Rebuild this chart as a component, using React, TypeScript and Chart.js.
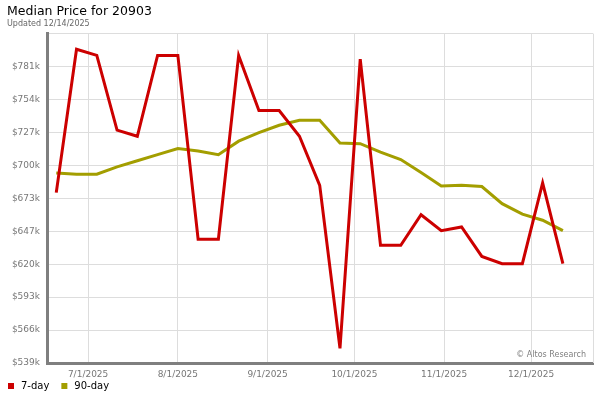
import React, { useEffect, useRef } from "react";
import { Chart, registerables } from "chart.js";
Chart.register(...registerables);

const titleText = "Median Price for 20903";
const subtitleText = "Updated 12/14/2025";
const creditText = "© Altos Research";

const dates = [
  "2025-06-20", "2025-06-27", "2025-07-04", "2025-07-11", "2025-07-18", "2025-07-25",
  "2025-08-01", "2025-08-08", "2025-08-15", "2025-08-22", "2025-08-29", "2025-09-05",
  "2025-09-12", "2025-09-19", "2025-09-26", "2025-10-03", "2025-10-10", "2025-10-17",
  "2025-10-24", "2025-10-31", "2025-11-07", "2025-11-14", "2025-11-21", "2025-11-28",
  "2025-12-05", "2025-12-12",
];

const sevenDay = [
  678000, 795000, 790000, 729000, 724000, 790000, 790000, 640000, 640000, 790000,
  745000, 745000, 724000, 684000, 551000, 787000, 635000, 635000, 660000, 647000,
  650000, 626000, 620000, 620000, 686000, 620000,
];

const ninetyDay = [
  694000, 693000, 693000, 699000, 704000, 709000, 714000, 712000, 709000, 720000,
  727000, 733000, 737000, 737000, 718500, 718000, 711000, 705000, 694500, 683500,
  684000, 683000, 669000, 660500, 655500, 647000,
];

const xTickDates = ["2025-07-01", "2025-08-01", "2025-09-01", "2025-10-01", "2025-11-01", "2025-12-01"];
const xTickLabels = ["7/1/2025", "8/1/2025", "9/1/2025", "10/1/2025", "11/1/2025", "12/1/2025"];

const yMin = 539000;
const yStep = 26880;
const yTickCount = 11;

const xMinDate = "2025-06-16";
const xMaxDate = "2025-12-22";

const BASE = Date.UTC(2025, 6, 1);
const dayOf = (s: string) => {
  const [y, m, d] = s.split("-").map(Number);
  return (Date.UTC(y, m - 1, d) - BASE) / 86400000;
};

const FONT = "'DejaVu Sans', Verdana, sans-serif";

export default function App() {
  const ref = useRef<HTMLCanvasElement | null>(null);

  useEffect(() => {
    document.body.style.margin = "0";
    const canvas = ref.current;
    if (!canvas) return;

    const framePlugin = {
      id: "frame",
      beforeDraw(chart: any) {
        if (chart.legend) {
          chart.legend.left = -4;
          chart.legend.top = 371;
        }
      },
      beforeDatasetsDraw(chart: any) {
        const { ctx, chartArea } = chart;
        ctx.save();
        ctx.strokeStyle = "#dddddd";
        ctx.lineWidth = 1;
        ctx.beginPath();
        ctx.moveTo(Math.round(chartArea.right) + 0.5, chartArea.top);
        ctx.lineTo(Math.round(chartArea.right) + 0.5, chartArea.bottom);
        ctx.stroke();
        ctx.restore();
      },
      afterDatasetsDraw(chart: any) {
        const { ctx, chartArea } = chart;
        ctx.save();
        ctx.font = `8px ${FONT}`;
        ctx.fillStyle = "#808080";
        ctx.textAlign = "right";
        ctx.textBaseline = "alphabetic";
        ctx.fillText(creditText, chartArea.right - 7, chartArea.bottom - 6);
        ctx.restore();
      },
    };

    const chart = new Chart(canvas, {
      type: "line",
      data: {
        datasets: [
          {
            label: "7-day",
            data: dates.map((d, i) => ({ x: dayOf(d), y: sevenDay[i] })),
            borderColor: "#cc0000",
            backgroundColor: "#cc0000",
            borderWidth: 3,
            pointRadius: 0,
            tension: 0,
          },
          {
            label: "90-day",
            data: dates.map((d, i) => ({ x: dayOf(d), y: ninetyDay[i] })),
            borderColor: "#a39e00",
            backgroundColor: "#a39e00",
            borderWidth: 3,
            pointRadius: 0,
            tension: 0,
          },
        ],
      },
      options: {
        responsive: false,
        animation: false,
        layout: { padding: { left: 7, right: 7, top: 0, bottom: -12 } },
        plugins: {
          title: {
            display: true,
            text: titleText,
            align: "start",
            color: "#000000",
            font: { family: FONT, size: 12.5, weight: "normal" },
            padding: { top: 4, bottom: 0 },
          },
          subtitle: {
            display: true,
            text: subtitleText,
            align: "start",
            color: "#666666",
            font: { family: FONT, size: 8, weight: "normal" },
            padding: { top: 0, bottom: 5 },
          },
          legend: {
            display: true,
            position: "bottom",
            align: "start",
            labels: {
              boxWidth: 10,
              boxHeight: 6,
              usePointStyle: true,
              pointStyle: "rect",
              padding: 10,
              color: "#000000",
              font: { family: FONT, size: 10 },
              generateLabels(c: any) {
                const items = (Chart as any).defaults.plugins.legend.labels.generateLabels(c);
                items.forEach((it: any) => {
                  it.lineWidth = 0;
                  it.pointStyle = "rect";
                });
                return items;
              },
            },
          },
          tooltip: { enabled: false },
        },
        scales: {
          x: {
            type: "linear",
            min: dayOf(xMinDate) + 0.8,
            max: dayOf(xMaxDate) + 0.4,
            afterBuildTicks(scale: any) {
              scale.ticks = xTickDates.map((d) => ({ value: dayOf(d) }));
            },
            afterFit(scale: any) {
              scale.height = 19;
            },
            ticks: {
              autoSkip: false,
              maxRotation: 0,
              padding: 6,
              color: "#777777",
              font: { family: FONT, size: 9 },
              callback(value: any) {
                const idx = xTickDates.findIndex((d) => dayOf(d) === value);
                return idx >= 0 ? xTickLabels[idx] : "";
              },
            },
            grid: { color: "#dddddd", lineWidth: 1, drawTicks: false },
            border: { display: true, color: "#7f7f7f", width: 3 },
          },
          y: {
            type: "linear",
            min: yMin,
            max: yMin + yStep * (yTickCount - 1),
            afterBuildTicks(scale: any) {
              const t = [];
              for (let i = 0; i < yTickCount; i++) t.push({ value: yMin + i * yStep });
              scale.ticks = t;
            },
            afterFit(scale: any) {
              scale.width = 40;
            },
            ticks: {
              padding: 7,
              color: "#777777",
              font: { family: FONT, size: 9 },
              callback(value: any, index: number) {
                if (index === yTickCount - 1) return "";
                return "$" + Math.round(Number(value) / 1000) + "k";
              },
            },
            grid: { color: "#dddddd", lineWidth: 1, drawTicks: false },
            border: { display: true, color: "#7f7f7f", width: 3 },
          },
        },
      },
      plugins: [framePlugin],
    } as any);

    return () => chart.destroy();
  }, []);

  return (
    <div style={{ width: 600, height: 400, position: "relative", background: "#fff" }}>
      <canvas ref={ref} width={600} height={400} style={{ display: "block" }} />
    </div>
  );
}
